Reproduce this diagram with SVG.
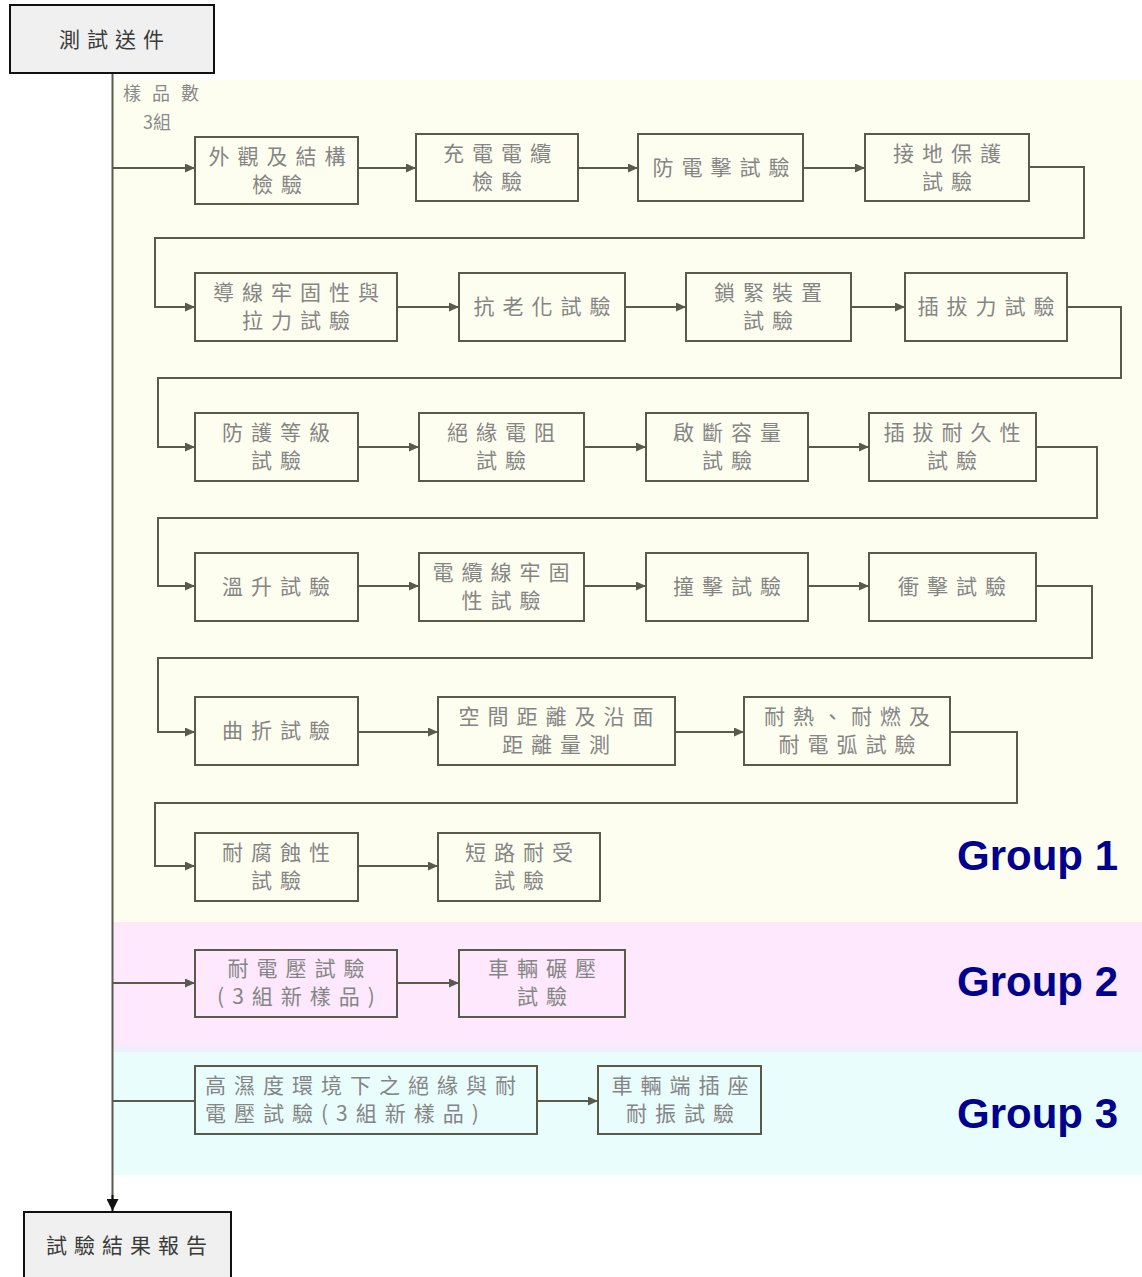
<svg xmlns="http://www.w3.org/2000/svg" width="1142" height="1277" viewBox="0 0 1142 1277">
<style>
.box{fill:none;stroke:#5a5a4a;stroke-width:2}
.term{fill:#f0f0f0;stroke:#111;stroke-width:2}
.t{font-family:"Noto Sans CJK TC","Noto Sans CJK SC",sans-serif;font-size:21px;fill:#858585;letter-spacing:8px;text-anchor:middle}
.tl{text-anchor:start}
.tt{font-family:"Noto Sans CJK TC","Noto Sans CJK SC",sans-serif;font-size:21px;fill:#3a3a3a;letter-spacing:7px;text-anchor:middle}
.lbl{font-family:"Noto Sans CJK TC","Noto Sans CJK SC",sans-serif;font-size:18px;fill:#8a8a8a;letter-spacing:11px}
.g{font-family:"Liberation Sans",Arial,sans-serif;font-weight:bold;font-size:42px;fill:#00008f;text-anchor:end}
.c{fill:none;stroke:#5a5a4a;stroke-width:2}
</style>
<defs>
<marker id="ah" markerUnits="userSpaceOnUse" markerWidth="11" markerHeight="9" refX="10" refY="4.5" orient="auto"><path d="M0,0 L10,4.5 L0,9 z" fill="#5a5a4a"/></marker>
<marker id="ahk" markerUnits="userSpaceOnUse" markerWidth="12" markerHeight="12" refX="12" refY="6" orient="auto"><path d="M0,0 L12,6 L0,12 z" fill="#111"/></marker>
</defs>
<g id="backgrounds">
<rect x="113" y="80" width="1029" height="842" fill="#fefef0"/>
<rect x="113" y="922" width="1029" height="124" fill="#fde8fd"/>
<rect x="113" y="1046" width="1029" height="6" fill="#eeeefd"/>
<rect x="113" y="1052" width="1029" height="123" fill="#e9fdfd"/>
</g>
<g id="connectors">
<path class="c" d="M112.5 73 V1200" stroke="#111"/>
<path d="M112.5 1195 V1211" fill="none" stroke="#111" stroke-width="2" marker-end="url(#ahk)"/>
<path class="c" d="M113 168 H195" marker-end="url(#ah)"/>
<path class="c" d="M358 168 H416" marker-end="url(#ah)"/>
<path class="c" d="M578 168 H638" marker-end="url(#ah)"/>
<path class="c" d="M803 168 H865" marker-end="url(#ah)"/>
<path class="c" d="M1029 167 H1084 V238 H155 V307 H195" marker-end="url(#ah)"/>
<path class="c" d="M397 307 H459" marker-end="url(#ah)"/>
<path class="c" d="M625 307 H686" marker-end="url(#ah)"/>
<path class="c" d="M851 307 H905" marker-end="url(#ah)"/>
<path class="c" d="M1067 307 H1121 V378 H158 V447 H195" marker-end="url(#ah)"/>
<path class="c" d="M358 447 H419" marker-end="url(#ah)"/>
<path class="c" d="M584 447 H646" marker-end="url(#ah)"/>
<path class="c" d="M808 447 H869" marker-end="url(#ah)"/>
<path class="c" d="M1036 447 H1097 V518 H158 V586 H195" marker-end="url(#ah)"/>
<path class="c" d="M358 586 H419" marker-end="url(#ah)"/>
<path class="c" d="M584 586 H646" marker-end="url(#ah)"/>
<path class="c" d="M808 586 H869" marker-end="url(#ah)"/>
<path class="c" d="M1036 586 H1092 V658 H158 V732 H195" marker-end="url(#ah)"/>
<path class="c" d="M358 732 H438" marker-end="url(#ah)"/>
<path class="c" d="M675 732 H744" marker-end="url(#ah)"/>
<path class="c" d="M950 732 H1017 V803 H155 V866 H195" marker-end="url(#ah)"/>
<path class="c" d="M358 866 H438" marker-end="url(#ah)"/>
<path class="c" d="M113 983 H195" marker-end="url(#ah)"/>
<path class="c" d="M397 983 H459" marker-end="url(#ah)"/>
<path class="c" d="M113 1101 H195"/>
<path class="c" d="M537 1101 H598" marker-end="url(#ah)"/>
</g>
<g id="n-start"><rect class="term" x="10" y="5" width="204" height="68"/><text class="tt" x="115" y="47">測試送件</text></g>
<g id="n-samples"><text class="lbl" x="123" y="100">樣品數</text><text class="lbl" x="143" y="129" style="letter-spacing:0">3組</text></g>
<g id="n1"><rect class="box" x="195" y="137" width="163" height="67"/><text class="t" x="281" y="164">外觀及結構<tspan x="281" dy="28">檢驗</tspan></text></g>
<g id="n2"><rect class="box" x="416" y="134" width="162" height="67"/><text class="t" x="501" y="161">充電電纜<tspan x="501" dy="28">檢驗</tspan></text></g>
<g id="n3"><rect class="box" x="638" y="134" width="165" height="67"/><text class="t" x="725" y="175">防電擊試驗</text></g>
<g id="n4"><rect class="box" x="865" y="134" width="164" height="67"/><text class="t" x="951" y="161">接地保護<tspan x="951" dy="28">試驗</tspan></text></g>
<g id="n5"><rect class="box" x="195" y="273" width="202" height="68"/><text class="t" x="300" y="300">導線牢固性與<tspan x="300" dy="28">拉力試驗</tspan></text></g>
<g id="n6"><rect class="box" x="459" y="273" width="166" height="68"/><text class="t" x="546" y="314">抗老化試驗</text></g>
<g id="n7"><rect class="box" x="686" y="273" width="165" height="68"/><text class="t" x="772" y="300">鎖緊裝置<tspan x="772" dy="28">試驗</tspan></text></g>
<g id="n8"><rect class="box" x="905" y="273" width="162" height="68"/><text class="t" x="990" y="314">插拔力試驗</text></g>
<g id="n9"><rect class="box" x="195" y="413" width="163" height="68"/><text class="t" x="280" y="440">防護等級<tspan x="280" dy="28">試驗</tspan></text></g>
<g id="n10"><rect class="box" x="419" y="413" width="165" height="68"/><text class="t" x="505" y="440">絕緣電阻<tspan x="505" dy="28">試驗</tspan></text></g>
<g id="n11"><rect class="box" x="646" y="413" width="162" height="68"/><text class="t" x="731" y="440">啟斷容量<tspan x="731" dy="28">試驗</tspan></text></g>
<g id="n12"><rect class="box" x="869" y="413" width="167" height="68"/><text class="t" x="956" y="440">插拔耐久性<tspan x="956" dy="28">試驗</tspan></text></g>
<g id="n13"><rect class="box" x="195" y="553" width="163" height="68"/><text class="t" x="280" y="594">溫升試驗</text></g>
<g id="n14"><rect class="box" x="419" y="553" width="165" height="68"/><text class="t" x="505" y="580">電纜線牢固<tspan x="505" dy="28">性試驗</tspan></text></g>
<g id="n15"><rect class="box" x="646" y="553" width="162" height="68"/><text class="t" x="731" y="594">撞擊試驗</text></g>
<g id="n16"><rect class="box" x="869" y="553" width="167" height="68"/><text class="t" x="956" y="594">衝擊試驗</text></g>
<g id="n17"><rect class="box" x="195" y="697" width="163" height="68"/><text class="t" x="280" y="738">曲折試驗</text></g>
<g id="n18"><rect class="box" x="438" y="697" width="237" height="68"/><text class="t" x="560" y="724">空間距離及沿面<tspan x="560" dy="28">距離量測</tspan></text></g>
<g id="n19"><rect class="box" x="744" y="697" width="206" height="68"/><text class="t" x="851" y="724">耐熱、耐燃及<tspan x="851" dy="28">耐電弧試驗</tspan></text></g>
<g id="n20"><rect class="box" x="195" y="833" width="163" height="68"/><text class="t" x="280" y="860">耐腐蝕性<tspan x="280" dy="28">試驗</tspan></text></g>
<g id="n21"><rect class="box" x="438" y="833" width="162" height="68"/><text class="t" x="523" y="860">短路耐受<tspan x="523" dy="28">試驗</tspan></text></g>
<g id="n22"><rect class="box" x="195" y="950" width="202" height="67"/><text class="t" x="300" y="976">耐電壓試驗<tspan x="300" dy="28">(3組新樣品)</tspan></text></g>
<g id="n23"><rect class="box" x="459" y="950" width="166" height="67"/><text class="t" x="546" y="976">車輛碾壓<tspan x="546" dy="28">試驗</tspan></text></g>
<g id="n24"><rect class="box" x="195" y="1066" width="342" height="68"/><text class="t tl" x="205" y="1093">高濕度環境下之絕緣與耐<tspan x="205" dy="28">電壓試驗(3組新樣品)</tspan></text></g>
<g id="n25"><rect class="box" x="598" y="1066" width="163" height="68"/><text class="t" x="684" y="1093">車輛端插座<tspan x="684" dy="28">耐振試驗</tspan></text></g>
<g id="n-end"><rect class="term" x="24" y="1212" width="207" height="70"/><text class="tt" x="130" y="1253">試驗結果報告</text></g>
<g id="group-labels">
<text class="g" x="1118" y="870">Group 1</text>
<text class="g" x="1118" y="996">Group 2</text>
<text class="g" x="1118" y="1128">Group 3</text>
</g>
</svg>
